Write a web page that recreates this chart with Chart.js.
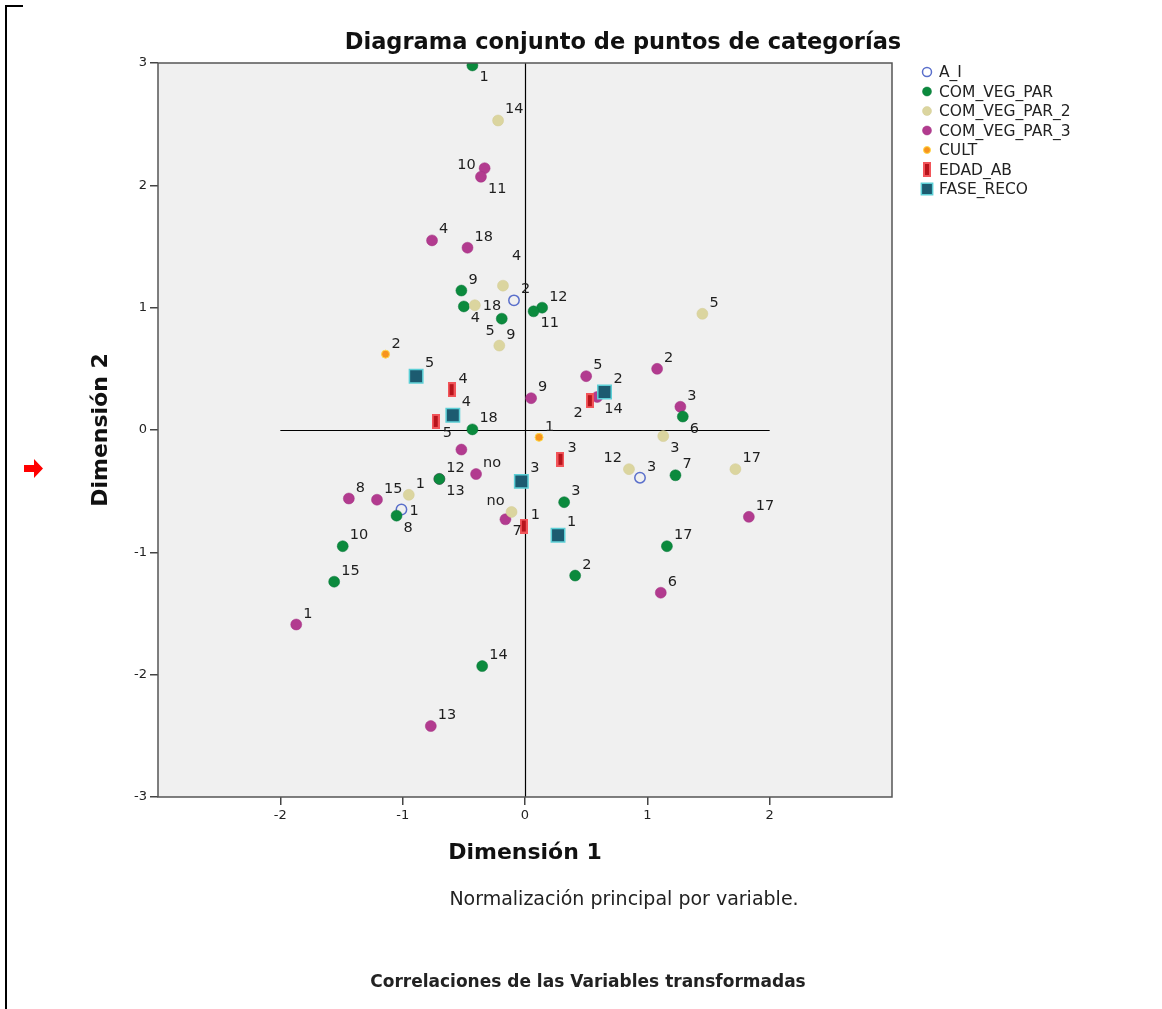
<!DOCTYPE html>
<html lang="es">
<head>
<meta charset="utf-8">
<title>Diagrama conjunto de puntos de categorías</title>
<script src="https://cdn.jsdelivr.net/npm/chart.js@4.4.1/dist/chart.umd.min.js"></script>
<style>
  html, body { margin: 0; padding: 0; background: #fff; }
  #wrap { position: relative; width: 1162px; height: 1009px; overflow: hidden; }
  #frame { position: absolute; left: 5px; top: 5px; width: 16px; height: 1010px; border-left: 2px solid #000; border-top: 2px solid #000; }
  #arrow { position: absolute; left: 24px; top: 459px; }
  .cap { position: absolute; text-align: center; font-family: "DejaVu Sans", sans-serif; color: #222; white-space: nowrap; }
  #note { left: 324px; width: 600px; top: 887px; font-size: 19px; }
  #next { left: 288px; width: 600px; top: 971px; font-size: 17px; font-weight: bold; }
</style>
</head>
<body>
<div id="wrap">
  <canvas id="joint"></canvas>
  <div id="frame"></div>
  <svg id="arrow" width="20" height="19" viewBox="0 0 20 19"><path d="M0 6 H10 V0 L19 9.5 L10 19 V13 H0 Z" fill="#ff0000"/></svg>
  <div class="cap" id="note">Normalización principal por variable.</div>
  <div class="cap" id="next">Correlaciones de las Variables transformadas</div>
</div>
<script>
const FONT = '"DejaVu Sans", sans-serif';

const xTicks = [-2, -1, 0, 1, 2];
const yTicks = [-3, -2, -1, 0, 1, 2, 3];

// A_I
const aiX = [-0.09, -1.01, 0.94];
const aiY = [1.06, -0.65, -0.39];
const aiCat = ['2', '1', '3'];
const aiPos = ['ne', 'e', 'ne'];

// COM_VEG_PAR
const vegX = [-0.43, -0.52, -0.50, -0.19, 0.14, 0.07, -0.43, -0.70, -1.05, -1.49, -1.56, -0.35, 0.32, 0.41, 1.16, 1.23, 1.29];
const vegY = [2.98, 1.14, 1.01, 0.91, 1.00, 0.97, 0.005, -0.40, -0.70, -0.95, -1.24, -1.93, -0.59, -1.19, -0.95, -0.37, 0.11];
const vegCat = ['1', '9', '4', '5', '12', '11', '18', '13', '8', '10', '15', '14', '3', '2', '17', '7', '6'];
const vegPos = ['se', 'ne', 'se', 'sw', 'ne', 'se', 'ne', 'se', 'se', 'ne', 'ne', 'ne', 'ne', 'ne', 'ne', 'ne', 'se'];

// COM_VEG_PAR_2
const veg2X = [-0.22, -0.18, -0.41, -0.21, 1.45, -0.95, -0.11, 0.85, 1.13, 1.72];
const veg2Y = [2.53, 1.18, 1.02, 0.69, 0.95, -0.53, -0.67, -0.32, -0.05, -0.32];
const veg2Cat = ['14', '4', '18', '9', '5', '1', 'no', '12', '3', '17'];
const veg2Pos = ['ne', 'nn', 'e', 'ne', 'ne', 'ne', 'nw', 'nw', 'se', 'ne'];

// COM_VEG_PAR_3
const veg3X = [-0.33, -0.36, -0.76, -0.47, 0.05, 0.50, 0.59, 1.08, 1.27, -0.52, -0.40, -1.44, -1.21, -0.16, 1.83, 1.11, -1.87, -0.77, -0.70];
const veg3Y = [2.14, 2.07, 1.55, 1.49, 0.26, 0.44, 0.27, 0.50, 0.19, -0.16, -0.36, -0.56, -0.57, -0.73, -0.71, -1.33, -1.59, -2.42, -0.40];
const veg3Cat = ['10', '11', '4', '18', '9', '5', '14', '2', '3', '', 'no', '8', '15', '7', '17', '6', '1', '13', '12'];
const veg3Pos = ['w', 'se', 'ne', 'ne', 'ne', 'ne', 'se', 'ne', 'ne', 'ne', 'ne', 'ne', 'ne', 'se', 'ne', 'ne', 'ne', 'ne', 'ne'];

// CULT
const cultX = [-1.14, 0.115];
const cultY = [0.62, -0.06];
const cultCat = ['2', '1'];
const cultPos = ['ne', 'ne'];

// EDAD_AB
const edadX = [-0.60, -0.73, 0.53, 0.29, -0.01];
const edadY = [0.33, 0.07, 0.24, -0.24, -0.785];
const edadCat = ['4', '5', '2', '3', '1'];
const edadPos = ['ne', 'se', 'sw', 'ne', 'ne'];

// FASE_RECO
const faseX = [-0.89, -0.59, 0.65, -0.03, 0.27];
const faseY = [0.44, 0.12, 0.31, -0.42, -0.86];
const faseCat = ['5', '4', '2', '3', '1'];
const fasePos = ['ne', 'ne', 'ne', 'ne', 'ne'];

function pts(xs, ys) {
  return xs.map((x, i) => ({ x: x, y: ys[i] }));
}

// tall red bar used for EDAD_AB
const edadMark = document.createElement('canvas');
edadMark.width = 8;
edadMark.height = 15;
const em = edadMark.getContext('2d');
em.fillStyle = '#f2555a';
em.fillRect(0, 0, 8, 15);
em.fillStyle = '#b8141c';
em.fillRect(2, 2, 4, 11);

const datasets = [
  { label: 'A_I', data: pts(aiX, aiY), cats: aiCat, pos: aiPos, order: 7,
    pointStyle: 'circle', pointRadius: 5.2, backgroundColor: 'rgba(0,0,0,0)', borderColor: '#5a6fcb', borderWidth: 1.5, half: 5 },
  { label: 'COM_VEG_PAR', data: pts(vegX, vegY), cats: vegCat, pos: vegPos, order: 5,
    pointStyle: 'circle', pointRadius: 5.5, backgroundColor: '#0b8a3d', borderColor: '#08773a', borderWidth: 0.5, half: 5 },
  { label: 'COM_VEG_PAR_2', data: pts(veg2X, veg2Y), cats: veg2Cat, pos: veg2Pos, order: 4,
    pointStyle: 'circle', pointRadius: 5.5, backgroundColor: '#dbd59f', borderColor: '#d2cb92', borderWidth: 0.5, half: 5 },
  { label: 'COM_VEG_PAR_3', data: pts(veg3X, veg3Y), cats: veg3Cat, pos: veg3Pos, order: 6,
    pointStyle: 'circle', pointRadius: 5.5, backgroundColor: '#b23b8f', borderColor: '#a23283', borderWidth: 0.5, half: 5 },
  { label: 'CULT', data: pts(cultX, cultY), cats: cultCat, pos: cultPos, order: 3,
    pointStyle: 'circle', pointRadius: 4, backgroundColor: '#f7941d', borderColor: '#ffd84a', borderWidth: 1, half: 4 },
  { label: 'EDAD_AB', data: pts(edadX, edadY), cats: edadCat, pos: edadPos, order: 2,
    pointStyle: edadMark, pointRadius: 5, backgroundColor: '#b8141c', borderColor: '#f2555a', borderWidth: 0, half: 5 },
  { label: 'FASE_RECO', data: pts(faseX, faseY), cats: faseCat, pos: fasePos, order: 1,
    pointStyle: 'rect', pointRadius: 9.5, backgroundColor: '#1c5b70', borderColor: '#5ccfd6', borderWidth: 1.5, half: 7 }
];

const decor = {
  id: 'decor',
  beforeDraw(chart) {
    const { ctx, chartArea: a } = chart;
    ctx.save();
    ctx.fillStyle = '#f0f0f0';
    ctx.fillRect(a.left, a.top, a.right - a.left, a.bottom - a.top);
    ctx.restore();
  },
  beforeDatasetsDraw(chart) {
    const { ctx, chartArea: a, scales: { x, y } } = chart;
    const x0 = Math.round(x.getPixelForValue(0)) + 0.5;
    const y0 = Math.round(y.getPixelForValue(0)) + 0.5;
    ctx.save();
    ctx.strokeStyle = '#000';
    ctx.lineWidth = 1.2;
    ctx.beginPath();
    ctx.moveTo(x0, a.top);
    ctx.lineTo(x0, a.bottom);
    ctx.moveTo(x.getPixelForValue(-2), y0);
    ctx.lineTo(x.getPixelForValue(2), y0);
    ctx.stroke();
    ctx.restore();
  },
  afterDatasetsDraw(chart) {
    const ctx = chart.ctx;
    ctx.save();
    ctx.font = '14.5px ' + FONT;
    ctx.fillStyle = '#1e1e1e';
    chart.data.datasets.forEach((ds, di) => {
      const meta = chart.getDatasetMeta(di);
      meta.data.forEach((el, i) => {
        const t = ds.cats[i];
        if (!t) return;
        const h = ds.half;
        let tx, ty;
        ctx.textAlign = 'left';
        switch (ds.pos[i]) {
          case 'se': tx = el.x + h + 2; ty = el.y + h + 11; break;
          case 'sw': ctx.textAlign = 'right'; tx = el.x - h - 2; ty = el.y + h + 11; break;
          case 'nw': ctx.textAlign = 'right'; tx = el.x - h - 2; ty = el.y - h - 2; break;
          case 'w': ctx.textAlign = 'right'; tx = el.x - h - 4; ty = el.y + 1; break;
          case 'e': tx = el.x + h + 3; ty = el.y + 5; break;
          case 'nn': tx = el.x + h + 4; ty = el.y - h - 21; break;
          default: tx = el.x + h + 2; ty = el.y - h - 2;
        }
        ctx.fillText(t, tx, ty);
      });
    });
    ctx.restore();
  },
  afterDraw(chart) {
    const { ctx, chartArea: a } = chart;
    ctx.save();
    // plot frame
    ctx.strokeStyle = '#555';
    ctx.lineWidth = 1.5;
    ctx.strokeRect(a.left, a.top, a.right - a.left, a.bottom - a.top);

    ctx.fillStyle = '#111';
    ctx.textAlign = 'center';
    ctx.textBaseline = 'middle';
    ctx.font = 'bold 22.5px ' + FONT;
    ctx.fillText('Diagrama conjunto de puntos de categorías', 623, 43);
    ctx.font = 'bold 22px ' + FONT;
    ctx.fillText('Dimensión 1', (a.left + a.right) / 2, 853);
    ctx.save();
    ctx.translate(101, (a.top + a.bottom) / 2);
    ctx.rotate(-Math.PI / 2);
    ctx.fillText('Dimensión 2', 0, 0);
    ctx.restore();

    // legend
    const lx = 927, ly = 72, step = 19.5;
    ctx.font = '15.5px ' + FONT;
    ctx.textAlign = 'left';
    chart.data.datasets.forEach((ds, i) => {
      const cy = ly + i * step;
      ctx.fillStyle = ds.backgroundColor;
      ctx.strokeStyle = ds.borderColor;
      ctx.lineWidth = ds.borderWidth;
      const r = ds.pointStyle === 'rect' ? 8 : (ds.label === 'CULT' ? 3.5 : 4.5);
      Chart.helpers.drawPoint(ctx, { pointStyle: ds.pointStyle, radius: r, borderWidth: ds.borderWidth, rotation: 0 }, lx, cy);
      ctx.fillStyle = '#222';
      ctx.fillText(ds.label, 939, cy + 1);
    });
    ctx.restore();
  }
};

const axisCommon = {
  type: 'linear',
  min: -3,
  max: 3,
  ticks: { font: { family: FONT, size: 13 }, color: '#222', padding: 3 },
  grid: { display: true, drawOnChartArea: false, drawTicks: true, tickLength: 8, color: '#444', lineWidth: 1.5 },
  border: { display: false }
};

new Chart(document.getElementById('joint'), {
  type: 'scatter',
  data: { datasets: datasets },
  options: {
    responsive: true,
    maintainAspectRatio: false,
    animation: false,
    layout: { padding: { left: 108, right: 270, top: 63, bottom: 162 } },
    plugins: { legend: { display: false }, title: { display: false }, tooltip: { enabled: false } },
    scales: {
      x: Object.assign({}, axisCommon, {
        afterBuildTicks: s => { s.ticks = xTicks.map(v => ({ value: v })); },
        afterFit: s => { s.height = 50; }
      }),
      y: Object.assign({}, axisCommon, {
        afterBuildTicks: s => { s.ticks = yTicks.map(v => ({ value: v })); },
        afterFit: s => { s.width = 50; }
      })
    }
  },
  plugins: [decor]
});
</script>
</body>
</html>
